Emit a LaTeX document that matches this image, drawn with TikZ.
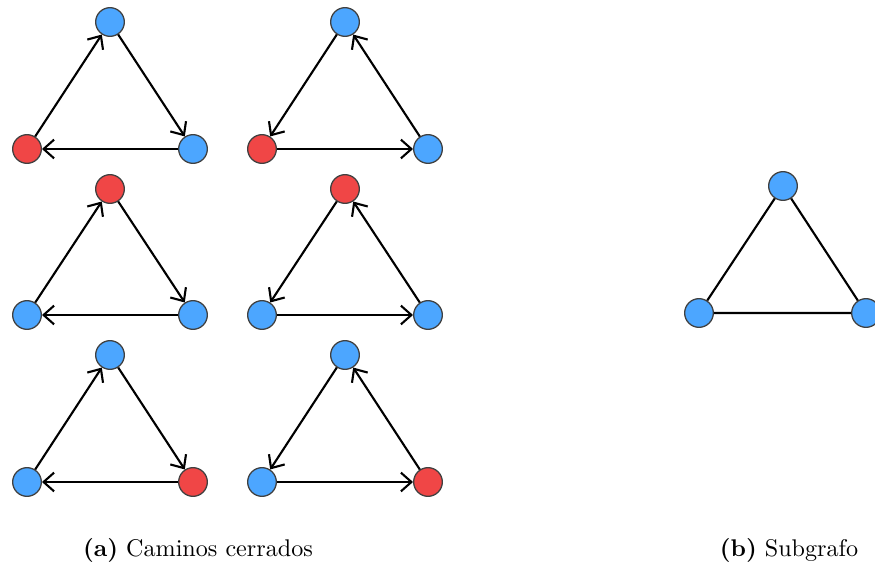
\documentclass[tikz,border=0pt]{standalone}
\usepackage{amsmath}
\usepackage{tikz}
\usetikzlibrary{arrows.meta,positioning}

\definecolor{nodeblue}{RGB}{76,166,255}
\definecolor{nodered}{RGB}{240,70,70}

\tikzset{
    vtx/.style={circle, draw=black!75, line width=0.55pt, minimum size=0.43cm, inner sep=0pt},
    bvtx/.style={vtx, fill=nodeblue},
    rvtx/.style={vtx, fill=nodered},
    edge/.style={line width=0.9pt},
    arc/.style={edge, -{Straight Barb[length=4.5pt,width=8pt]}}
}

\begin{document}
\begin{tikzpicture}
    \useasboundingbox (0,0) rectangle (13.125,8.565);

    % Row 1, left
    \begin{scope}[shift={(0.405,6.33)}]
        \node[rvtx] (l) at (0,0) {};
        \node[bvtx] (t) at (1.245,1.905) {};
        \node[bvtx] (r) at (2.49,0) {};
        \draw[arc] (l) -- (t);
        \draw[arc] (t) -- (r);
        \draw[arc] (r) -- (l);
    \end{scope}

    % Row 1, right
    \begin{scope}[shift={(3.93,6.33)}]
        \node[rvtx] (l) at (0,0) {};
        \node[bvtx] (t) at (1.245,1.905) {};
        \node[bvtx] (r) at (2.49,0) {};
        \draw[arc] (l) -- (r);
        \draw[arc] (r) -- (t);
        \draw[arc] (t) -- (l);
    \end{scope}

    % Row 2, left
    \begin{scope}[shift={(0.405,3.84)}]
        \node[bvtx] (l) at (0,0) {};
        \node[rvtx] (t) at (1.245,1.89) {};
        \node[bvtx] (r) at (2.49,0) {};
        \draw[arc] (l) -- (t);
        \draw[arc] (t) -- (r);
        \draw[arc] (r) -- (l);
    \end{scope}

    % Row 2, right
    \begin{scope}[shift={(3.93,3.84)}]
        \node[bvtx] (l) at (0,0) {};
        \node[rvtx] (t) at (1.245,1.89) {};
        \node[bvtx] (r) at (2.49,0) {};
        \draw[arc] (l) -- (r);
        \draw[arc] (r) -- (t);
        \draw[arc] (t) -- (l);
    \end{scope}

    % Row 3, left
    \begin{scope}[shift={(0.405,1.335)}]
        \node[bvtx] (l) at (0,0) {};
        \node[bvtx] (t) at (1.245,1.905) {};
        \node[rvtx] (r) at (2.49,0) {};
        \draw[arc] (l) -- (t);
        \draw[arc] (t) -- (r);
        \draw[arc] (r) -- (l);
    \end{scope}

    % Row 3, right
    \begin{scope}[shift={(3.93,1.335)}]
        \node[bvtx] (l) at (0,0) {};
        \node[bvtx] (t) at (1.245,1.905) {};
        \node[rvtx] (r) at (2.49,0) {};
        \draw[arc] (l) -- (r);
        \draw[arc] (r) -- (t);
        \draw[arc] (t) -- (l);
    \end{scope}

    % Undirected subgraph
    \begin{scope}[shift={(10.485,3.87)}]
        \node[bvtx] (l) at (0,0) {};
        \node[bvtx] (t) at (1.26,1.905) {};
        \node[bvtx] (r) at (2.505,0) {};
        \draw[edge] (l) -- (t) -- (r) -- (l);
    \end{scope}

    % Captions
    \node[scale=1.03] (capa) at (2.97,0.315) {\textbf{(a)} Caminos cerrados};
    \node[scale=1.03] (capb) at (11.835,0.315) {\textbf{(b)} Subgrafo};
\end{tikzpicture}
\end{document}
